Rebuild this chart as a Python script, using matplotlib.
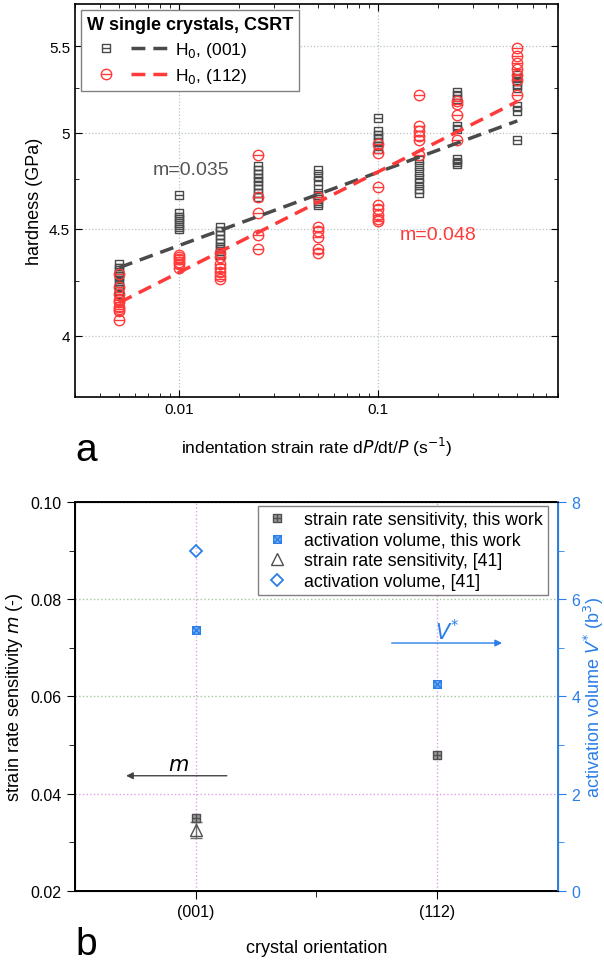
import matplotlib.pyplot as plt
import numpy as np
from matplotlib.path import Path
from matplotlib.lines import Line2D
from matplotlib.legend_handler import HandlerTuple
from matplotlib.ticker import FixedLocator, FixedFormatter, NullFormatter, LogLocator

plt.rcParams['font.family'] = ['Liberation Sans', 'DejaVu Sans']

# ---- panel a: hardness vs indentation strain rate ----
rates = [0.005, 0.01, 0.016, 0.025, 0.05, 0.1, 0.16, 0.25, 0.5]
h_001 = [
    [4.33, 4.31, 4.30, 4.28, 4.27, 4.25, 4.24, 4.22, 4.20, 4.19],
    [4.67, 4.58, 4.56, 4.55, 4.53, 4.51, 4.50],
    [4.51, 4.49, 4.47, 4.45, 4.43, 4.41, 4.40, 4.38, 4.37],
    [4.82, 4.80, 4.78, 4.76, 4.74, 4.72, 4.70, 4.68, 4.66],
    [4.80, 4.77, 4.74, 4.70, 4.67, 4.65, 4.63, 4.62],
    [5.08, 5.01, 4.99, 4.97, 4.95, 4.93, 4.91],
    [4.85, 4.82, 4.79, 4.76, 4.73, 4.70, 4.68],
    [5.23, 5.21, 5.19, 5.04, 5.02, 4.86, 4.84, 4.83],
    [5.33, 5.31, 5.29, 5.27, 5.25, 5.15, 5.12, 4.96],
]
h_112 = [
    [4.28, 4.22, 4.19, 4.16, 4.15, 4.13, 4.12, 4.11, 4.07],
    [4.37, 4.36, 4.35, 4.34, 4.33, 4.31],
    [4.38, 4.36, 4.33, 4.31, 4.29, 4.27, 4.26],
    [4.88, 4.66, 4.58, 4.47, 4.40],
    [4.66, 4.51, 4.49, 4.46, 4.40, 4.38],
    [4.94, 4.89, 4.71, 4.62, 4.60, 4.57, 4.55, 4.54],
    [5.21, 5.04, 5.01, 4.98, 4.96, 4.88],
    [5.18, 5.16, 5.10, 4.96],
    [5.49, 5.44, 5.40, 5.36, 5.33, 5.30, 5.21],
]
# power-law fits H = A * rate^m
fit_001 = (5.19, 0.035)
fit_112 = (5.35, 0.048)
fit_range = [0.005, 0.5]

# ---- panel b: m and V* vs orientation ----
orientations = ['(001)', '(112)']
m_this = [0.035, 0.048]
v_this = [5.37, 4.26]
m_ref = [0.0325]
m_ref_err = [0.0017]
v_ref = [7.0]

gray = '#4a4a4a'
red = '#ff3a3a'
blue = '#2a7fe8'


def bar_marker(kind):
    sq = Path([(-1, -1), (1, -1), (1, 1), (-1, 1), (-1, -1)],
              [Path.MOVETO, Path.LINETO, Path.LINETO, Path.LINETO, Path.CLOSEPOLY])
    hbar = Path([(-1, 0), (1, 0)], [Path.MOVETO, Path.LINETO])
    vbar = Path([(0, -1), (0, 1)], [Path.MOVETO, Path.LINETO])
    d1 = Path([(-1, -1), (1, 1)], [Path.MOVETO, Path.LINETO])
    d2 = Path([(-1, 1), (1, -1)], [Path.MOVETO, Path.LINETO])
    if kind == 'sq':
        return Path.make_compound_path(sq, hbar)
    if kind == 'circ':
        return Path.make_compound_path(Path.unit_circle(), hbar)
    if kind == 'plus':
        return Path.make_compound_path(sq, hbar, vbar)
    return Path.make_compound_path(sq, d1, d2)


fig = plt.figure(figsize=(6.04, 9.62), dpi=100)
ax1 = fig.add_axes([0.1242, 0.5863, 0.7996, 0.4085])

for r, hs in zip(rates, h_001):
    ax1.plot([r] * len(hs), hs, ls='none', marker=bar_marker('sq'), ms=6,
             mfc='none', mec=gray, mew=1.0, zorder=3)
for r, hs in zip(rates, h_112):
    ax1.plot([r] * len(hs), hs, ls='none', marker=bar_marker('circ'), ms=7.5,
             mfc='none', mec=red, mew=1.0, zorder=3)

xf = np.logspace(np.log10(fit_range[0]), np.log10(fit_range[1]), 50)
ax1.plot(xf, fit_001[0] * xf ** fit_001[1], color=gray, lw=2.5, dashes=(4, 2.3), zorder=4)
ax1.plot(xf, fit_112[0] * xf ** fit_112[1], color=red, lw=2.5, dashes=(4, 2.3), zorder=4)

ax1.set_xscale('log')
ax1.set_yscale('log')
ax1.set_xlim(0.003, 0.8)
ax1.set_ylim(3.74, 5.76)
ax1.xaxis.set_major_locator(FixedLocator([0.01, 0.1]))
ax1.xaxis.set_major_formatter(FixedFormatter(['0.01', '0.1']))
ax1.xaxis.set_minor_locator(LogLocator(base=10, subs=np.arange(2, 10)))
ax1.xaxis.set_minor_formatter(NullFormatter())
ax1.yaxis.set_major_locator(FixedLocator([4, 4.5, 5, 5.5]))
ax1.yaxis.set_major_formatter(FixedFormatter(['4', '4.5', '5', '5.5']))
ax1.yaxis.set_minor_locator(FixedLocator([4.25, 4.75, 5.25]))
ax1.yaxis.set_minor_formatter(NullFormatter())
ax1.tick_params(which='both', direction='in', top=True, right=True, labelsize=11)
ax1.tick_params(which='major', length=5)
ax1.tick_params(which='minor', length=3)
ax1.grid(True, which='major', ls=':', color='#b8c4c4', lw=0.9)
for s in ax1.spines.values():
    s.set_linewidth(1.2)

ax1.set_ylabel('hardness (GPa)', fontsize=13)
ax1.set_xlabel('indentation strain rate d$P$/dt/$P$ (s$^{-1}$)', fontsize=12.5, labelpad=14)
ax1.text(0.0115, 4.80, 'm=0.035', color='#555555', fontsize=14, ha='center', va='center')
ax1.text(0.20, 4.47, 'm=0.048', color=red, fontsize=14, ha='center', va='center')

sq_h = Line2D([], [], ls='none', marker=bar_marker('sq'), ms=6, mfc='none', mec=gray, mew=1.0)
dl_h = Line2D([], [], color=gray, lw=2.5, dashes=(4, 2.3))
ci_h = Line2D([], [], ls='none', marker=bar_marker('circ'), ms=7.5, mfc='none', mec=red, mew=1.0)
dr_h = Line2D([], [], color=red, lw=2.5, dashes=(4, 2.3))
leg1 = ax1.legend([(sq_h, dl_h), (ci_h, dr_h)], ['H$_0$, (001)', 'H$_0$, (112)'],
                  handler_map={tuple: HandlerTuple(ndivide=None, pad=0.3)},
                  handlelength=4.8, loc='upper left', bbox_to_anchor=(0.012, 0.985),
                  fontsize=12.5, title='W single crystals, CSRT',
                  title_fontproperties={'weight': 'bold', 'size': 13},
                  alignment='left', fancybox=False, framealpha=1, edgecolor='#808080',
                  borderaxespad=0, borderpad=0.35, handletextpad=0.3, labelspacing=0.4)
leg1.get_frame().set_linewidth(1.0)

fig.text(0.125, 0.531, 'a', fontsize=28, ha='left', va='center')

# ---- panel b ----
ax2 = fig.add_axes([0.1242, 0.0728, 0.7996, 0.4043])
ax3 = ax2.twinx()
pos = np.arange(1, len(orientations) + 1)

ax2.plot(pos, m_this, ls='none', marker=bar_marker('plus'), ms=5.5, mfc='#9a9a9a',
         mec='#505050', mew=1.0, zorder=5)
ax2.errorbar(pos[:1], m_ref, yerr=m_ref_err, ls='none', marker='^', ms=8, mfc='none',
             mec='#505050', mew=1.0, ecolor='#707070', elinewidth=1.0, capsize=4, zorder=4)
ax3.plot(pos, v_this, ls='none', marker=bar_marker('x'), ms=5.5, mfc='#7fb2ee',
         mec=blue, mew=1.0, zorder=5)
ax3.plot(pos[:1], v_ref, ls='none', marker='D', ms=6.5, mfc='none', mec=blue, mew=1.3, zorder=5)

ax2.set_xlim(0.5, 2.5)
ax2.set_ylim(0.02, 0.10)
ax3.set_ylim(0, 8)
ax2.set_xticks(pos, orientations)
ax2.set_xticks([1.5], minor=True)
ax2.set_yticks([0.02, 0.04, 0.06, 0.08, 0.10], ['0.02', '0.04', '0.06', '0.08', '0.10'])
ax2.set_yticks([0.03, 0.05, 0.07, 0.09], minor=True)
ax3.set_yticks([0, 2, 4, 6, 8])
ax3.set_yticks([1, 3, 5, 7], minor=True)
ax2.tick_params(which='both', direction='out', labelsize=11.5)
ax2.tick_params(which='major', length=6)
ax2.tick_params(which='minor', length=4)
ax3.tick_params(which='both', direction='out', colors=blue, labelsize=11.5)
ax3.tick_params(which='major', length=6)
ax3.tick_params(which='minor', length=4)
ax3.spines['right'].set_color(blue)
for s in ['left', 'bottom', 'top']:
    ax2.spines[s].set_linewidth(1.4)
ax3.spines['right'].set_linewidth(1.4)

ax2.grid(True, axis='x', ls=':', color='#e0a0e8', lw=1.0)
ax2.grid(True, axis='y', ls=':', color='#a8c8a0', lw=1.0)
for t, gl in zip(ax2.get_yticks(), ax2.get_ygridlines()):
    if abs(t - 0.04) < 1e-6:
        gl.set_color('#e0a0e8')

ax2.set_ylabel('strain rate sensitivity $m$ (-)', fontsize=13)
ax3.set_ylabel('activation volume $V^{*}$ (b$^{3}$)', fontsize=13, color=blue, labelpad=1)
ax2.set_xlabel('crystal orientation', fontsize=13, labelpad=14)

ax2.annotate('', xy=(0.70, 0.0437), xytext=(1.14, 0.0437),
             arrowprops=dict(arrowstyle='-|>', color='#444444', lw=1.0, mutation_scale=10))
ax2.text(0.93, 0.0461, '$m$', fontsize=15, ha='center', va='center')
ax3.annotate('', xy=(2.28, 5.10), xytext=(1.80, 5.10),
             arrowprops=dict(arrowstyle='-|>', color=blue, lw=1.0, mutation_scale=10))
ax3.text(2.04, 5.35, '$V^{*}$', fontsize=15, ha='center', va='center', color=blue)

hm1 = Line2D([], [], ls='none', marker=bar_marker('plus'), ms=5.5, mfc='#9a9a9a', mec='#505050', mew=1.0)
hv1 = Line2D([], [], ls='none', marker=bar_marker('x'), ms=5.5, mfc='#7fb2ee', mec=blue, mew=1.0)
hm2 = Line2D([], [], ls='none', marker='^', ms=8, mfc='none', mec='#505050', mew=1.0)
hv2 = Line2D([], [], ls='none', marker='D', ms=6.5, mfc='none', mec=blue, mew=1.3)
leg2 = ax3.legend([hm1, hv1, hm2, hv2],
                  ['strain rate sensitivity, this work', 'activation volume, this work',
                   'strain rate sensitivity, [41]', 'activation volume, [41]'],
                  loc='upper right', bbox_to_anchor=(0.98, 0.99), fontsize=12.8,
                  fancybox=False, framealpha=1, edgecolor='#808080', borderaxespad=0,
                  borderpad=0.3, handlelength=1.5, handletextpad=0.8, labelspacing=0.2)
leg2.get_frame().set_linewidth(1.0)

fig.text(0.125, 0.018, 'b', fontsize=28, ha='left', va='center')

fig.savefig('out.png', dpi=100)
